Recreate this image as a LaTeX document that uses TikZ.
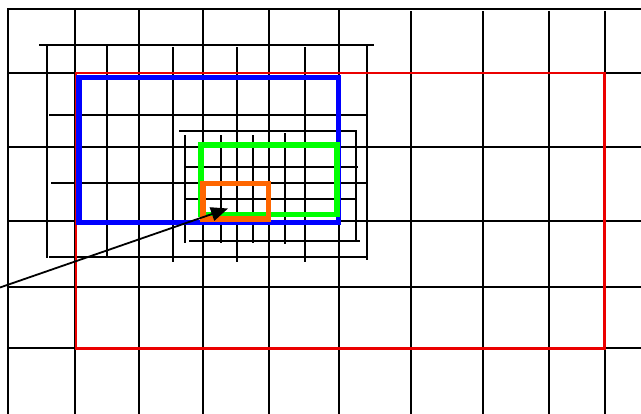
\documentclass[tikz,border=0pt]{standalone}
\usetikzlibrary{arrows.meta}
\definecolor{boxred}{RGB}{235,0,0}
\definecolor{boxblue}{RGB}{0,0,255}
\definecolor{boxgreen}{RGB}{0,255,0}
\definecolor{boxorange}{RGB}{255,102,0}
\begin{document}
\begin{tikzpicture}[x=1pt,y=-1pt,
  gridline/.style={line width=2pt,black,line cap=rect},
  redframe/.style={boxred,line width=2.6pt},
  blueframe/.style={boxblue,line width=5.8pt},
  greenframe/.style={boxgreen,line width=5.3pt},
  orangeframe/.style={boxorange,line width=5.8pt},
  pointer/.style={black,line width=1.8pt,-{Triangle[length=17pt,width=14pt]}}
]
\useasboundingbox[fill=white] (0,0) rectangle (641,414);
% coarse grid
\foreach \y in {9,73,147,221.5,287.5,348.5} \draw[gridline] (8,\y) -- (641,\y);
\foreach \x in {8,74.5,138.5,202.5,268.5,338.5} \draw[gridline] (\x,9) -- (\x,414);
\foreach \x in {411,483,548.5,604.5} \draw[gridline] (\x,12) -- (\x,414);
% medium grid
\draw[gridline] (40,45) -- (373,45);
\draw[gridline] (50,115) -- (366,115);
\draw[gridline] (52,183) -- (367,183);
\draw[gridline] (50,257.5) -- (367,257.5);
\draw[gridline] (47,45) -- (47,257.5);
\draw[gridline] (107,45) -- (107,256);
\draw[gridline] (173,48) -- (173,261);
\draw[gridline] (237,48) -- (237,261);
\draw[gridline] (305,48) -- (305,261);
\draw[gridline] (367,45) -- (367,259);
% fine grid
\draw[gridline] (180,131) -- (356,131);
\draw[gridline] (185,167) -- (357,167);
\draw[gridline] (185,199) -- (355,199);
\draw[gridline] (190,241) -- (359,241);
\draw[gridline] (185,136) -- (185,242);
\draw[gridline] (221,136) -- (221,242);
\draw[gridline] (253,136) -- (253,242);
\draw[gridline] (285,134) -- (285,243);
\draw[gridline] (355.5,131) -- (355.5,241);
% frames
\draw[redframe] (76,73) rectangle (604.5,348.5);
\draw[blueframe] (79,77.5) rectangle (338.5,222.5);
\draw[greenframe] (201,145) rectangle (337,214.5);
\draw[orangeframe] (203,183.5) rectangle (268.5,219);
% pointer
\coordinate (src) at (0,287.5);
\coordinate (tgt) at (228,208.5);
\draw[pointer] (src) -- (tgt);
\end{tikzpicture}
\end{document}
